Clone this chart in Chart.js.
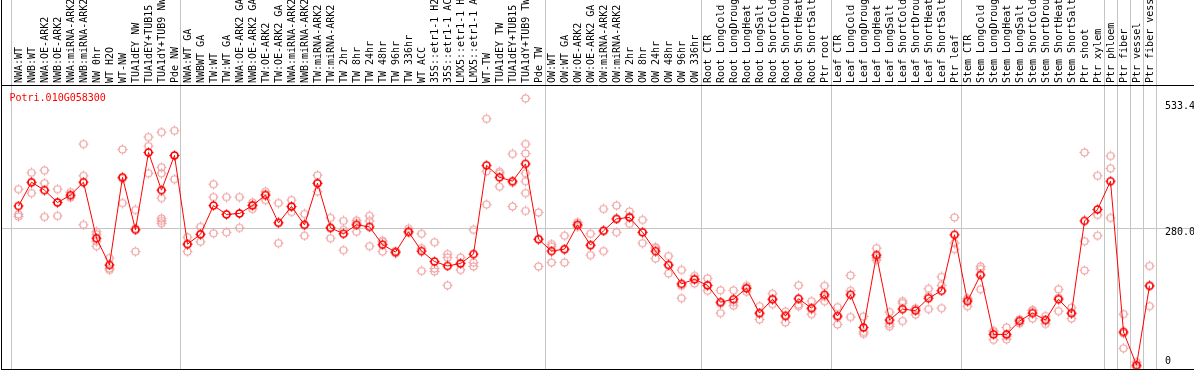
<!DOCTYPE html>
<html><head><meta charset="utf-8">
<script src="https://cdn.jsdelivr.net/npm/chart.js@4/dist/chart.umd.min.js"></script>
<style>
html,body{margin:0;padding:0;background:#fff;overflow:hidden}
#wrap{position:absolute;left:1px;top:0;width:1193px;height:370px;box-sizing:border-box;border-left:1px solid #000;border-bottom:1px solid #000;background:#fff}
canvas{display:block}
</style></head><body>
<div id="wrap"><canvas id="c" width="1192" height="369"></canvas></div>
<script>
const geneName = "Potri.010G058300";
const categories = [
 "NWA:WT","NWB:WT","NWA:OE-ARK2","NWB:OE-ARK2","NWA:miRNA-ARK2","NWB:miRNA-ARK2","NW 0hr","WT H2O","WT-NW","TUA1dEY NW","TUA1dEY+TUB15 NW","TUA1dY+TUB9 NW","Pde NW",
 "NWA:WT GA","NWBWT GA","TW:WT","TW:WT GA","NWA:OE-ARK2 GA","NWB:OE-ARK2 GA","TW:OE-ARK2","TW:OE-ARK2 GA","NWA:miRNA-ARK2 GA","NWB:miRNA-ARK2 GA","TW:miRNA-ARK2","TW:miRNA-ARK2 GA",
 "TW 2hr","TW 8hr","TW 24hr","TW 48hr","TW 96hr","TW 336hr","WT ACC","35S::etr1-1 H2O","35S::etr1-1 ACC","LMX5::etr1-1 H2O","LMX5::etr1-1 ACC","WT-TW","TUA1dEY TW","TUA1dEY+TUB15 TW","TUA1dY+TUB9 TW","Pde TW",
 "OW:WT","OW:WT GA","OW:OE-ARK2","OW:OE-ARK2 GA","OW:miRNA-ARK2","OW:miRNA-ARK2 GA","OW 2hr","OW 8hr","OW 24hr","OW 48hr","OW 96hr","OW 336hr",
 "Root CTR","Root LongCold","Root LongDrought","Root LongHeat","Root LongSalt","Root ShortCold","Root ShortDrought","Root ShortHeat","Root ShortSalt","Ptr root",
 "Leaf CTR","Leaf LongCold","Leaf LongDrought","Leaf LongHeat","Leaf LongSalt","Leaf ShortCold","Leaf ShortDrought","Leaf ShortHeat","Leaf ShortSalt","Ptr leaf",
 "Stem CTR","Stem LongCold","Stem LongDrought","Stem LongHeat","Stem LongSalt","Stem ShortCold","Stem ShortDrought","Stem ShortHeat","Stem ShortSalt",
 "Ptr shoot","Ptr xylem","Ptr phloem","Ptr fiber","Ptr vessel","Ptr fiber vessel"
];
const meanValues = [
 325,373,357,332,347,373,260,206,383,277,433,357,427,
 248,268,326,308,310,326,347,291,324,287,371,281,269,287,283,247,232,273,234,213,204,209,228,407,383,375,410,258,
 234,238,287,246,275,299,302,272,234,206,168,177,
 165,131,137,159,109,137,103,138,119,146,
 103,146,80,226,95,117,114,139,154,267,
 133,186,66,66,93,109,95,137,109,
 295,318,375,71,4,164
];
const replicateValues = [
 [359,308,304],[392,372,351],[397,371,303],[359,333,305],[353,345,342],[450,386,287],[273,268,254,244],[220,199,196],[439,380,331],[317,280,233],[464,446,391],[474,403,391,341,300,295,290],[477,427,379],
 [262,248,233],[283,268,253],[369,343,270],[343,308,272],[343,310,281],[332,328,319],[354,349,337],[331,292,250],[337,323,313],[309,287,265],[387,371,354],[301,281,260],
 [295,277,236],[296,291,273],[305,295,244],[255,253,233],[234,232,230],[279,273,271],[269,240,194],[252,199,193],[228,221,165],[221,210,196],[277,211,203],[501,395,328],[394,391,364],[430,372,324],[542,450,431,391,375,351,315],[312,258,203],
 [248,243,211],[265,237,211],[292,287,283],[269,246,226],[319,275,234],[326,299,272],[314,304,289],[297,272,250],[242,240,219],[224,206,189],[196,164,139],[184,178,169],
 [179,165,154],[155,128,109],[155,131,124],[164,160,152],[123,108,96],[148,137,127],[112,105,90],[165,126,123],[133,117,107],[164,142,133],
 [121,101,86],[185,154,101],[102,71,67],[240,221,216],[111,87,82],[133,129,93],[118,118,106],[158,143,117],[182,165,119],[302,250,238],
 [139,137,123],[203,198,157],[73,71,55],[80,63,56],[96,95,88],[115,114,98],[103,95,87],[157,140,113],[120,108,98],
 [433,254,195],[386,307,265],[426,401,301],[107,68,38],[10,1,0],[204,164,123]
];
const yTickValues = [0, 280, 533.4];
const yTickLabels = ["0", "280.0", "533.4"];
const groupStarts = [0, 13, 41, 53, 63, 73, 84, 85, 86, 87];

const FONT = "DejaVu Sans Mono";
const meanData = meanValues.map((v, i) => ({x: i, y: v}));
const repData = [];
replicateValues.forEach((arr, i) => arr.forEach(v => repData.push({x: i, y: v})));

// marker glyph: ring with four short spikes
function makeMarker(color, lw) {
  const c = document.createElement('canvas');
  c.width = 11; c.height = 11;
  const g = c.getContext('2d');
  g.strokeStyle = color; g.lineWidth = lw;
  g.beginPath(); g.arc(5.5, 5.5, 3.5, 0, Math.PI * 2); g.stroke();
  g.lineWidth = 1;
  g.beginPath();
  g.moveTo(5.5, 0.5); g.lineTo(5.5, 2.2);
  g.moveTo(5.5, 8.8); g.lineTo(5.5, 10.5);
  g.moveTo(0.5, 5.5); g.lineTo(2.2, 5.5);
  g.moveTo(8.8, 5.5); g.lineTo(10.5, 5.5);
  g.stroke();
  return c;
}
const meanMarker = makeMarker('#ff0000', 1.7);
const repMarker = makeMarker('#f0a0a0', 1.2);

function zeroPad(s) { s.paddingLeft = 0; s.paddingRight = 0; s.paddingTop = 0; s.paddingBottom = 0; }

const titlePlugin = {
  id: 'geneTitle',
  afterDraw(chart) {
    const {ctx, chartArea} = chart;
    ctx.save();
    ctx.font = '10px "' + FONT + '"';
    ctx.fillStyle = '#ff0000';
    ctx.textBaseline = 'alphabetic';
    ctx.textAlign = 'left';
    ctx.fillText(geneName, chartArea.left + 7.5, chartArea.top + 15.5);
    ctx.restore();
  }
};

new Chart(document.getElementById('c'), {
  type: 'line',
  data: {
    datasets: [
      {
        label: 'mean', data: meanData, showLine: true, tension: 0,
        borderColor: '#ff0000', borderWidth: 1,
        pointStyle: meanMarker, pointRadius: 4, pointHoverRadius: 4
      },
      {
        label: 'replicates', data: repData, showLine: false,
        pointStyle: repMarker, pointRadius: 4, pointHoverRadius: 4
      }
    ]
  },
  options: {
    responsive: false, animation: false, devicePixelRatio: 1,
    layout: {padding: 0, autoPadding: false},
    events: [],
    plugins: {legend: {display: false}, tooltip: {enabled: false}, title: {display: false}},
    scales: {
      x: {
        type: 'linear', position: 'top', min: -1.2692, max: 90.423,
        afterBuildTicks: s => { s.ticks = categories.map((_, i) => ({value: i})); },
        afterFit: s => { s.height = 85; zeroPad(s); },
        ticks: {
          autoSkip: false, minRotation: 90, maxRotation: 90, padding: -83, labelOffset: 13,
          color: '#000', font: {family: FONT, size: 10},
          callback: v => categories[v]
        },
        grid: {
          offset: true, tickLength: 85, lineWidth: 1,
          color: ctx => (ctx.type !== 'tick' || groupStarts.includes(ctx.index)) ? '#c4c4c4' : 'rgba(0,0,0,0)'
        },
        border: {display: true, color: '#000', width: 1}
      },
      y: {
        type: 'linear', position: 'right', min: -3.8, max: 569.1,
        afterBuildTicks: s => { s.ticks = yTickValues.map(v => ({value: v})); },
        afterFit: s => { s.width = 0; zeroPad(s); },
        ticks: {
          mirror: true, crossAlign: 'far', padding: 1, labelOffset: 4, color: '#000',
          font: ctx => ({family: FONT, size: 10, lineHeight: (ctx.tick && ctx.tick.value === 0) ? 1.88 : 1.2}),
          callback: (v, i) => (v === 0 ? [yTickLabels[i], ""] : yTickLabels[i])
        },
        grid: {
          drawTicks: false, lineWidth: 1,
          color: ctx => (ctx.tick && ctx.tick.value === 280) ? '#c4c4c4' : 'rgba(0,0,0,0)'
        },
        border: {display: false}
      }
    }
  },
  plugins: [titlePlugin]
});
</script>
</body></html>
